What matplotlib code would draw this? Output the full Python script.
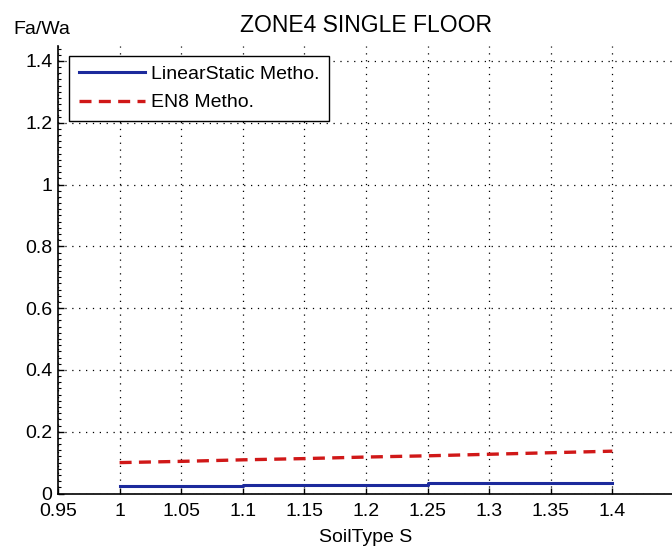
import matplotlib
matplotlib.use("Agg")
import matplotlib.pyplot as plt
from matplotlib.ticker import MultipleLocator

plt.rcParams["font.family"] = ["Liberation Sans", "DejaVu Sans"]

# ── Data ─────────────────────────────────────────────────────────────────────
soil_s = [1.0, 1.05, 1.1, 1.15, 1.2, 1.25, 1.3, 1.35, 1.4]
linear_static = [0.024, 0.024, 0.0285, 0.0285, 0.028, 0.034, 0.034, 0.034, 0.034]
en8 = [0.100, 0.104, 0.109, 0.113, 0.118, 0.122, 0.127, 0.132, 0.137]

x_ticks = [0.95, 1.0, 1.05, 1.1, 1.15, 1.2, 1.25, 1.3, 1.35, 1.4]
x_labels = ["0.95", "1", "1.05", "1.1", "1.15", "1.2", "1.25", "1.3", "1.35", "1.4"]
y_ticks = [0, 0.2, 0.4, 0.6, 0.8, 1.0, 1.2, 1.4]
y_labels = ["0", "0.2", "0.4", "0.6", "0.8", "1", "1.2", "1.4"]

BLUE = "#1c2a9c"
RED = "#d01818"
FS = 14

fig = plt.figure(figsize=(6.72, 5.47), dpi=100)
ax = fig.add_axes([58 / 672, 53.5 / 547, 616 / 672, 448 / 547])

ax.plot(soil_s, linear_static, color=BLUE, lw=2.2, drawstyle="steps-post",
        label="LinearStatic Metho.")
ax.plot(soil_s, en8, color=RED, lw=2.4, linestyle=(0, (3.6, 2.2)),
        label="EN8 Metho.")

ax.set_xlim(0.95, 1.45)
ax.set_ylim(0, 1.45)
ax.set_xticks(x_ticks)
ax.set_xticklabels(x_labels)
ax.set_yticks(y_ticks)
ax.set_yticklabels(y_labels)
ax.yaxis.set_minor_locator(MultipleLocator(0.02))

ax.tick_params(axis="both", which="major", direction="in", length=4.5,
               width=1, labelsize=FS, color="black")
ax.tick_params(axis="x", pad=7)
ax.tick_params(axis="y", pad=4)
ax.tick_params(axis="y", which="minor", direction="in", length=2.2, width=0.8)

ax.grid(True, which="major", color="black", linestyle=(0, (1, 4.5)), lw=0.9)
for s in ["top", "right"]:
    ax.spines[s].set_visible(False)
for s in ["left", "bottom"]:
    ax.spines[s].set_linewidth(1.2)

ax.set_title("ZONE4 SINGLE FLOOR", fontsize=16.5, pad=9.5)
ax.set_xlabel("SoilType S", fontsize=FS, labelpad=6)
fig.text(13 / 672, 1 - 30 / 547, "Fa/Wa", fontsize=FS, va="center", ha="left")

leg = ax.legend(loc="upper left", bbox_to_anchor=(0.018, 0.977), fontsize=FS,
                frameon=True, fancybox=False, framealpha=1, edgecolor="black",
                handlelength=3.4, handletextpad=0.3, borderpad=0.5,
                labelspacing=0.55, borderaxespad=0)
leg.get_frame().set_linewidth(1.0)

fig.savefig("out.png", dpi=100, facecolor="white")
